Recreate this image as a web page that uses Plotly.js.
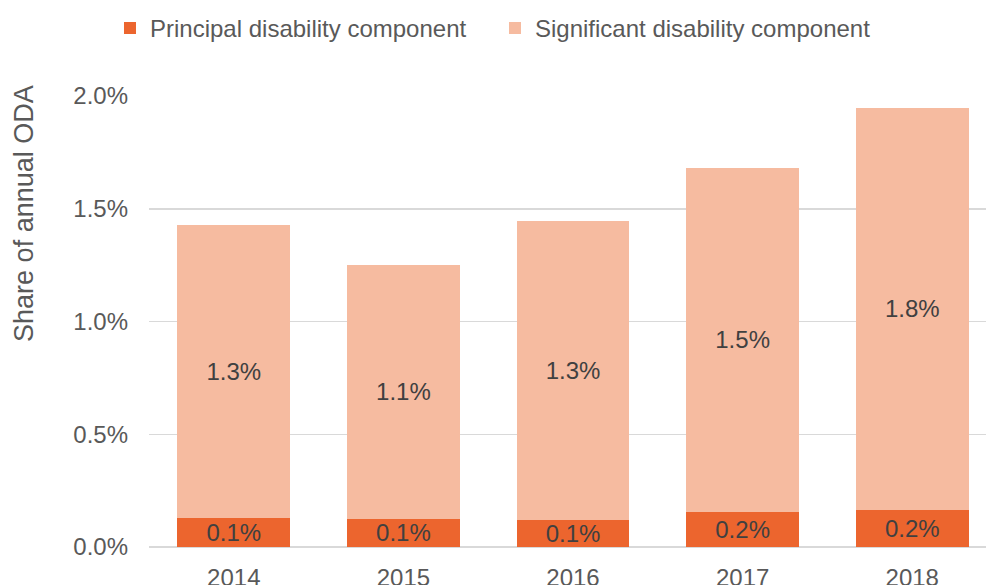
<!DOCTYPE html>
<html>
<head>
<meta charset="utf-8">
<script src="https://cdn.plot.ly/plotly-3.0.1.min.js"></script>
<style>html,body{margin:0;padding:0;background:#fff;}#chart{width:986px;height:585px;}</style>
</head>
<body>
<div id="chart"></div>
<script>
var years = ['2014', '2015', '2016', '2017', '2018'];
var principal = [0.13, 0.125, 0.12, 0.155, 0.163];
var significant = [1.30, 1.127, 1.326, 1.527, 1.785];
var seriesNames = ['Principal disability component', 'Significant disability component'];
var yTicks = [0, 0.5, 1.0, 1.5, 2.0];
var yTickText = yTicks.map(function (v) { return v.toFixed(1) + '%'; });
var yTitle = 'Share of annual ODA';

var font = 'Liberation Sans, Arial, sans-serif';
var common = {
  type: 'bar',
  x: years,
  textposition: 'inside',
  insidetextanchor: 'middle',
  constraintext: 'none',
  texttemplate: '%{y:.1f}%',
  textfont: {family: font, size: 24, color: '#404040'},
  hoverinfo: 'skip'
};
var t1 = Object.assign({}, common, {
  y: principal, name: seriesNames[0],
  marker: {color: '#EC652E', line: {width: 0}}
});
var t2 = Object.assign({}, common, {
  y: significant, name: seriesNames[1],
  marker: {color: '#F6BBA0', line: {width: 0}}
});

var layout = {
  width: 986, height: 585,
  margin: {l: 149, r: 0, t: 96, b: 37.5},
  barmode: 'stack',
  bargap: 0.334,
  paper_bgcolor: '#fff', plot_bgcolor: '#fff',
  font: {family: font, size: 24, color: '#595959'},
  showlegend: true,
  legend: {
    orientation: 'h', x: -0.0466, xanchor: 'left', y: 1.15, yanchor: 'middle',
    entrywidth: 340,
    font: {family: font, size: 24, color: '#595959'},
    traceorder: 'normal', itemclick: false
  },
  xaxis: {
    type: 'category',
    range: [-0.5, 4.435],
    showgrid: false, zeroline: false, showline: false,
    ticks: '', ticklabelstandoff: 14,
    tickfont: {family: font, size: 24, color: '#595959'},
    fixedrange: true
  },
  yaxis: {
    range: [0, 2.0],
    tickmode: 'array',
    tickvals: yTicks,
    ticktext: yTickText,
    showgrid: true, gridcolor: '#D9D9D9', gridwidth: 1.5,
    zeroline: true, zerolinecolor: '#D9D9D9', zerolinewidth: 2,
    showline: false, ticks: '', ticklabelstandoff: 20,
    tickfont: {family: font, size: 24, color: '#595959'},
    fixedrange: true
  },
  annotations: [{
    text: yTitle, xref: 'paper', yref: 'paper',
    x: -0.1493, y: 0.7386, xanchor: 'center', yanchor: 'middle',
    textangle: -90, showarrow: false,
    font: {family: font, size: 27, color: '#595959'}
  }]
};

Plotly.newPlot('chart', [t1, t2], layout, {staticPlot: true, displayModeBar: false});
</script>
</body>
</html>
